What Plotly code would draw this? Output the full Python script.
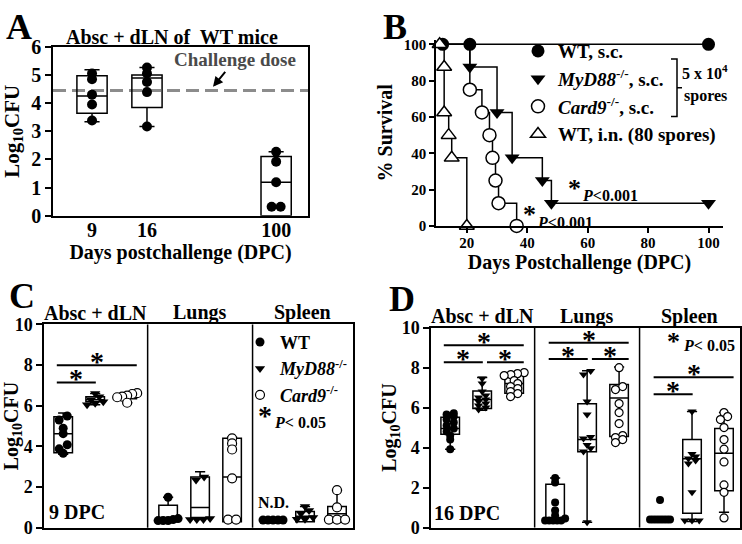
import plotly.graph_objects as go

W, H = 742, 544
FONT = "Liberation Serif"

# ---------------- Panel A: Absc + dLN burden of WT mice ----------------
A_days = ["9", "16", "100"]
A_day9 = [5.05, 4.85, 4.30, 3.95, 3.38]
A_day16 = [5.26, 5.05, 4.75, 4.39, 3.17]
A_day100 = [2.27, 1.92, 1.19, 0.32, 0.32]
A_q1 = [3.64, 3.84, 0.00]
A_median = [4.25, 4.89, 1.19]
A_q3 = [4.97, 5.00, 2.10]
A_lower = [3.34, 3.17, 0.00]
A_upper = [5.18, 5.26, 2.27]
A_challenge_dose = 4.45

# ---------------- Panel B: survival ----------------
B_start_day = 10
B_wt_sc_days = [12, 21, 100]
B_wt_sc_surv = [100, 100, 100]
B_myd88_days = [21, 30, 35, 45, 48, 100]
B_myd88_surv = [87.5, 62.5, 37.5, 25, 12.5, 12.5]
B_card9_days = [21, 25, 27.5, 28.5, 29.5, 30.5, 36.5]
B_card9_surv = [75, 62.5, 50, 37.5, 25, 12.5, 0]
B_wt_in_days = [11, 12.5, 12.5, 14, 15, 20]
B_wt_in_surv = [100, 87.5, 62.5, 50, 37.5, 0]

# ---------------- Panel C: 9 DPC ----------------
organs = ["Absc + dLN", "Lungs", "Spleen"]
C_absc_wt = [5.50, 5.30, 4.90, 4.63, 4.08, 3.88, 3.66]
C_absc_myd88 = [6.60, 6.45, 6.30, 6.20, 6.12, 6.05]
C_absc_card9 = [6.62, 6.58, 6.50, 6.45, 6.42, 6.15]
C_lung_wt = [1.50, 0.45, 0.40, 0.35, 0.35, 0.35]
C_lung_myd88 = [2.50, 2.35, 0.45, 0.40, 0.40, 0.40]
C_lung_card9 = [4.40, 4.15, 3.85, 2.43, 0.40, 0.40]
C_spl_wt = [0.38, 0.38, 0.38, 0.38, 0.38]
C_spl_myd88 = [1.05, 0.85, 0.70, 0.50, 0.42, 0.42]
C_spl_card9 = [1.85, 1.00, 0.40, 0.40, 0.40]
C_q1 = [[3.69, 6.20, 6.35], [0.30, 0.50, 0.30], [None, 0.30, 0.30]]
C_med = [[4.63, 6.30, 6.45], [0.50, 1.00, 2.50], [None, 0.57, 0.69]]
C_q3 = [[5.46, 6.44, 6.55], [1.10, 2.50, 4.40], [None, 0.80, 1.04]]
C_lo = [[3.61, 6.05, 6.15], [0.30, 0.40, 0.30], [None, 0.30, 0.30]]
C_hi = [[5.65, 6.60, 6.62], [1.50, 2.75, 4.45], [None, 1.05, 1.85]]
C_sig = [(0, 0, 2, 8.00), (0, 0, 1, 7.15)]

# ---------------- Panel D: 16 DPC ----------------
D_absc_wt = [5.72, 5.65, 5.55, 5.40, 5.25, 5.10, 4.95, 4.80, 4.60, 4.40, 3.92]
D_absc_myd88 = [7.45, 7.20, 6.80, 6.60, 6.50, 6.40, 6.30, 6.20, 6.10, 6.00, 5.90]
D_absc_card9 = [7.75, 7.70, 7.65, 7.60, 7.35, 7.20, 7.05, 6.95, 6.80, 6.70, 6.55]
D_lung_wt = [2.48, 2.25, 1.25, 0.85, 0.60, 0.45, 0.35, 0.35, 0.35, 0.35, 0.35]
D_lung_myd88 = [7.83, 7.65, 6.30, 5.66, 4.53, 4.45, 4.13, 3.97, 3.80, 0.27]
D_lung_card9 = [8.00, 7.05, 6.90, 6.20, 5.75, 5.20, 4.60, 4.50, 4.40, 4.25]
D_spl_wt = [1.38, 0.40, 0.40, 0.40, 0.40, 0.40, 0.40, 0.40, 0.40]
D_spl_myd88 = [5.80, 3.68, 3.55, 3.45, 3.35, 3.20, 1.76, 0.35, 0.35, 0.35]
D_spl_card9 = [5.75, 5.55, 5.40, 5.00, 4.40, 3.92, 3.28, 2.13, 1.76, 0.48]
D_q1 = [[4.67, 5.95, 6.72], [0.30, 3.79, 4.56], [None, 0.72, 1.84]]
D_med = [[4.96, 6.40, 7.20], [0.45, 4.40, 6.48], [None, 3.44, 3.71]]
D_q3 = [[5.52, 6.83, 7.68], [2.16, 6.19, 7.15], [None, 4.40, 4.96]]
D_lo = [[3.92, 5.87, 6.55], [0.30, 0.27, 4.24], [None, 0.30, 0.77]]
D_hi = [[5.70, 7.50, 7.75], [2.48, 7.84, 8.03], [None, 5.81, 5.76]]
D_sig = [(0, 0, 2, 9.12), (0, 0, 1, 8.27), (0, 1, 2, 8.27),
         (1, 0, 2, 9.25), (1, 0, 1, 8.43), (1, 1, 2, 8.43),
         (2, 0, 2, 7.52), (2, 0, 1, 6.67)]

# ======================= layout helpers =======================
def fx(px):
    return px / W

def fy(py):
    return 1 - py / H

A_pos = [1.0, 2.0, 4.35]
A_xr = [0.29, 4.93]
AX = (53, 308, 37.3, 213.3)
BX = (436, 723, 30, 224)
CX = (44, 353, 326.7, 538.5)
DX = (431, 740, 330, 538.3)
CD_xr = [0, 9.66]


def gx(organ, geno):
    return 0.6 + 3.28 * organ + geno


def swarm(center, vals, ypx, xpx, diam, maxw):
    idx = sorted(range(len(vals)), key=lambda i: vals[i])
    clusters = []
    for i in idx:
        if clusters and (vals[i] - vals[clusters[-1][0]]) * ypx < diam * 0.5:
            clusters[-1].append(i)
        else:
            clusters.append([i])
    xs = [center] * len(vals)
    for cl in clusters:
        n = len(cl)
        if n == 1:
            continue
        step = min(diam * 0.9, maxw / (n - 1))
        for j, i in enumerate(cl):
            xs[i] = center + (j - (n - 1) / 2) * step / xpx
    return xs


def T(text, px, py, size, **kw):
    d = dict(text=text, xref="paper", yref="paper", x=fx(px), y=fy(py),
             xanchor="center", yanchor="middle", showarrow=False,
             font=dict(size=size))
    d.update(kw)
    return d


fig = go.Figure()
ann = []
shapes = []

# ======================= Panel A =======================
fig.add_trace(go.Box(x=A_pos, q1=A_q1, median=A_median, q3=A_q3,
                     lowerfence=A_lower, upperfence=A_upper, width=0.55,
                     whiskerwidth=0.5, boxpoints=False,
                     line=dict(color="black", width=1.5),
                     fillcolor="rgba(0,0,0,0)", xaxis="x", yaxis="y",
                     showlegend=False, hoverinfo="skip"))
a_ypx = (AX[3] - AX[2]) / 6.0
a_xpx = (AX[1] - AX[0]) / (A_xr[1] - A_xr[0])
ax_list, ay_list = [], []
for pos, vals in zip(A_pos, [A_day9, A_day16, A_day100]):
    ax_list += swarm(pos, vals, a_ypx, a_xpx, 10, 22)
    ay_list += vals
fig.add_trace(go.Scatter(x=ax_list, y=ay_list, mode="markers",
                         marker=dict(symbol="circle", size=10, color="black"),
                         xaxis="x", yaxis="y", showlegend=False,
                         cliponaxis=False, hoverinfo="skip"))
shapes.append(dict(type="line", xref="x domain", yref="y", x0=0, x1=1,
                   y0=A_challenge_dose, y1=A_challenge_dose, layer="below",
                   line=dict(color="#8c8c8c", width=3, dash="13px,6px")))
ann.append(dict(text="Challenge dose", xref="paper", yref="paper",
                x=fx(213), y=fy(79), ax=22, ay=-27, showarrow=True,
                xanchor="center", yanchor="middle",
                arrowhead=2, arrowsize=1, arrowwidth=2, arrowcolor="black",
                font=dict(size=19, color="#4a4a4a")))
ann.append(T("Absc + dLN of  WT mice", 172, 27, 20))

# ======================= Panel B =======================
b_series = [
    ("WT, s.c.", B_wt_sc_days, B_wt_sc_surv,
     dict(symbol="circle", size=13, color="black")),
    ("<i>MyD88</i><sup>-/-</sup>, s.c.", B_myd88_days, B_myd88_surv,
     dict(symbol="triangle-down", size=13, color="black")),
    ("<i>Card9</i><sup>-/-</sup>, s.c.", B_card9_days, B_card9_surv,
     dict(symbol="circle", size=13, color="white",
          line=dict(color="black", width=1.5))),
    ("WT, i.n. (80 spores)", B_wt_in_days, B_wt_in_surv,
     dict(symbol="triangle-up", size=13, color="white",
          line=dict(color="black", width=1.5))),
]
for name, d, s, mk in b_series:
    fig.add_trace(go.Scatter(x=[B_start_day] + d, y=[100] + s, mode="lines",
                             line=dict(color="black", width=1.5, shape="hv"),
                             xaxis="x2", yaxis="y2", showlegend=False,
                             cliponaxis=False, hoverinfo="skip"))
for rank, (name, d, s, mk) in enumerate(b_series):
    fig.add_trace(go.Scatter(x=d, y=s, mode="markers", marker=mk, name=name,
                             xaxis="x2", yaxis="y2", showlegend=True,
                             legend="legend", legendrank=rank + 1,
                             cliponaxis=False, hoverinfo="skip"))


def P(px, py):
    return f"{fx(px):.5f},{fy(py):.5f}"


shapes.append(dict(type="path", xref="paper", yref="paper",
                   path=f"M{P(671,50)} L{P(677,50)} L{P(677,110)} L{P(671,110)} "
                        f"M{P(677,80)} L{P(682,80)}",
                   line=dict(color="black", width=1.5)))
ann.append(T("5 x 10<sup>4</sup>", 705, 64, 16))
ann.append(T("spores", 705, 89, 16))
for ax_px, ay_px, tx_px, ty_px in [(574, 185, 610, 192), (529, 212, 565, 220)]:
    ann.append(T("*", ax_px, ay_px, 26))
    ann.append(T("<i>P</i>&lt;0.001", tx_px, ty_px, 16))

# ======================= Panels C and D =======================
def organ_panel(xa, ya, box, vals3x3, q1, med, q3, lo, hi, sig, diam, legend_on):
    xpx = (box[1] - box[0]) / (CD_xr[1] - CD_xr[0])
    ypx = (box[3] - box[2]) / 10.0
    bx, bq1, bmed, bq3, blo, bhi = [], [], [], [], [], []
    for o in range(3):
        for g in range(3):
            if q1[o][g] is None:
                continue
            bx.append(gx(o, g)); bq1.append(q1[o][g]); bmed.append(med[o][g])
            bq3.append(q3[o][g]); blo.append(lo[o][g]); bhi.append(hi[o][g])
    fig.add_trace(go.Box(x=bx, q1=bq1, median=bmed, q3=bq3, lowerfence=blo,
                         upperfence=bhi, width=0.58, whiskerwidth=0.55,
                         boxpoints=False, line=dict(color="black", width=1.5),
                         fillcolor="rgba(0,0,0,0)", xaxis=xa, yaxis=ya,
                         showlegend=False, hoverinfo="skip"))
    styles = [("WT", dict(symbol="circle", size=diam, color="black")),
              ("<i>MyD88</i><sup>-/-</sup>",
               dict(symbol="triangle-down", size=diam, color="black")),
              ("<i>Card9</i><sup>-/-</sup>",
               dict(symbol="circle", size=diam, color="white",
                    line=dict(color="black", width=1.2)))]
    for g in range(3):
        xs, ys = [], []
        for o in range(3):
            v = vals3x3[o][g]
            xs += swarm(gx(o, g), v, ypx, xpx, diam, 20)
            ys += v
        name, mk = styles[g]
        fig.add_trace(go.Scatter(x=xs, y=ys, mode="markers", marker=mk,
                                 name=name, xaxis=xa, yaxis=ya,
                                 showlegend=legend_on, legend="legend2",
                                 legendrank=g + 1,
                                 cliponaxis=False, hoverinfo="skip"))
    for o in (1, 2):
        xd = (gx(o - 1, 2) + gx(o, 0)) / 2
        shapes.append(dict(type="line", xref=xa, yref=f"{ya} domain",
                           x0=xd, x1=xd, y0=0, y1=1,
                           line=dict(color="black", width=1.5)))
    bounds = [CD_xr[0], (gx(0, 2) + gx(1, 0)) / 2, (gx(1, 2) + gx(2, 0)) / 2, CD_xr[1]]
    for o in range(3):
        ann.append(dict(text=organs[o], xref=xa, yref="paper",
                        x=(bounds[o] + bounds[o + 1]) / 2, y=fy(box[2] - 12),
                        xanchor="center", yanchor="middle",
                        showarrow=False, font=dict(size=20)))
    for o, g1, g2, lvl in sig:
        x0 = gx(o, g1) + (-0.2 if g1 == 0 else 0.15)
        x1 = gx(o, g2) + (0.3 if g2 == 2 else 0.02)
        shapes.append(dict(type="line", xref=xa, yref=ya, x0=x0, x1=x1,
                           y0=lvl, y1=lvl, line=dict(color="black", width=2)))
        ann.append(dict(text="*", xref=xa, yref=ya, x=(x0 + x1) / 2, y=lvl,
                        xanchor="center", yanchor="bottom", yshift=-14,
                        showarrow=False, font=dict(size=28)))


organ_panel("x3", "y3", CX,
            [[C_absc_wt, C_absc_myd88, C_absc_card9],
             [C_lung_wt, C_lung_myd88, C_lung_card9],
             [C_spl_wt, C_spl_myd88, C_spl_card9]],
            C_q1, C_med, C_q3, C_lo, C_hi, C_sig, 9, True)
organ_panel("x4", "y4", DX,
            [[D_absc_wt, D_absc_myd88, D_absc_card9],
             [D_lung_wt, D_lung_myd88, D_lung_card9],
             [D_spl_wt, D_spl_myd88, D_spl_card9]],
            D_q1, D_med, D_q3, D_lo, D_hi, D_sig, 8, False)

ann.append(T("N.D.", 273, 512, 16))
ann.append(T("9 DPC", 77, 522, 20))
ann.append(T("16 DPC", 467, 523, 20))
ann.append(T("*", 265, 422, 28))
ann.append(T("<i>P</i>&lt; 0.05", 300, 429, 16))
ann.append(T("*", 673, 344, 26))
ann.append(T("<i>P</i>&lt; 0.05", 709, 349, 16))

for letter, px, py in [("A", 19, 17), ("B", 395, 17), ("C", 22, 297), ("D", 402, 300)]:
    ann.append(T(letter, px, py, 36))

# ======================= axes =======================
common_line = dict(showline=True, linecolor="black", linewidth=1.5,
                   showgrid=False, zeroline=False, ticks="outside",
                   tickcolor="black", tickwidth=1.5)

fig.update_layout(
    width=W, height=H, margin=dict(l=0, r=0, t=0, b=0), autosize=False,
    paper_bgcolor="white", plot_bgcolor="white", boxmode="overlay",
    font=dict(family=FONT, size=18, color="black", weight="bold"),
    xaxis=dict(domain=[fx(AX[0]), fx(AX[1])], range=A_xr, anchor="y",
               tickvals=A_pos, ticktext=A_days, mirror=True,
               tickfont=dict(size=20), ticklabelstandoff=-4,
               title=dict(text="Days postchallenge (DPC)", font=dict(size=20),
                          standoff=0),
               **{**common_line, "ticks": ""}),
    yaxis=dict(domain=[fy(AX[3]), fy(AX[2])], range=[0, 6], dtick=1,
               anchor="x", mirror=True, ticklen=6, tickfont=dict(size=20),
               title=dict(text="Log<sub>10</sub>CFU", font=dict(size=21),
                          standoff=6),
               **common_line),
    xaxis2=dict(domain=[fx(BX[0]), fx(BX[1])], range=[9.8, 104.8], anchor="y2",
                tickvals=[20, 40, 60, 80, 100], ticklen=5,
                tickfont=dict(size=15), ticklabelstandoff=-3,
                title=dict(text="Days Postchallenge (DPC)", font=dict(size=20),
                           standoff=0),
                **common_line),
    yaxis2=dict(domain=[fy(BX[3]), fy(BX[2])], range=[0, 102.5], anchor="x2",
                tickvals=[0, 20, 40, 60, 80, 100], ticklen=5,
                tickfont=dict(size=15),
                title=dict(text="% Survival", font=dict(size=20), standoff=6),
                **common_line),
    xaxis3=dict(domain=[fx(CX[0]), fx(CX[1])], range=CD_xr, anchor="y3",
                showticklabels=False, mirror=True,
                **{**common_line, "ticks": ""}),
    yaxis3=dict(domain=[fy(CX[3]), fy(CX[2])], range=[0, 10], dtick=2,
                anchor="x3", mirror=True, ticklen=6, tickfont=dict(size=18),
                title=dict(text="Log<sub>10</sub>CFU", font=dict(size=20),
                           standoff=0),
                **common_line),
    xaxis4=dict(domain=[fx(DX[0]), fx(DX[1])], range=CD_xr, anchor="y4",
                showticklabels=False, mirror=True,
                **{**common_line, "ticks": ""}),
    yaxis4=dict(domain=[fy(DX[3]), fy(DX[2])], range=[0, 10], dtick=2,
                anchor="x4", mirror=True, ticklen=6, tickfont=dict(size=18),
                title=dict(text="Log<sub>10</sub>CFU", font=dict(size=20),
                           standoff=0),
                **common_line),
    legend=dict(x=fx(518), y=fy(22), xanchor="left", yanchor="top",
                font=dict(size=19), bgcolor="rgba(0,0,0,0)",
                tracegroupgap=0, itemclick=False, itemdoubleclick=False),
    legend2=dict(x=fx(240), y=fy(326), xanchor="left", yanchor="top",
                 font=dict(size=18), bgcolor="rgba(0,0,0,0)",
                 tracegroupgap=0, itemclick=False, itemdoubleclick=False),
    annotations=ann, shapes=shapes,
)

fig.write_html("out.html", config={"displayModeBar": False},
               post_script="document.body.style.margin='0';")
